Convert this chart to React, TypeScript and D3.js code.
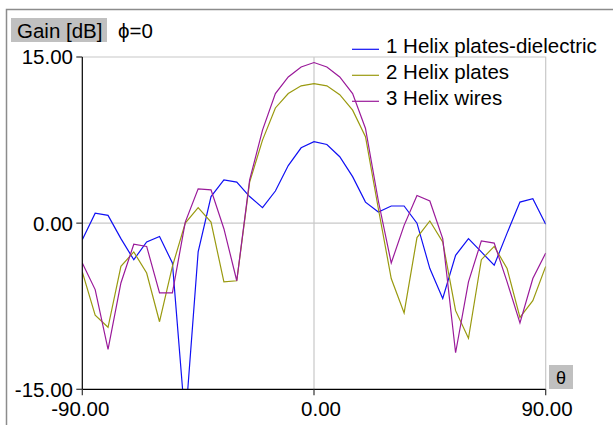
import React from 'react';
import * as d3 from 'd3';

// angles in degrees, 5 degree steps
const angles = d3.range(-90, 91, 5);

const seriesNames = ['1 Helix plates-dielectric', '2 Helix plates', '3 Helix wires'];
const seriesColors = ['#1010f4', '#9a9a10', '#9a1a9a'];

const platesDielectric = [
  -1.5, 0.9, 0.7, -1.4, -3.3, -1.7, -1.2, -3.6, -18, -2.6,
  2.4, 3.9, 3.7, 2.4, 1.4, 2.9, 5.2, 6.8, 7.35, 7.1,
  6.0, 4.2, 1.9, 1.0, 1.55, 1.55, 0.0, -4.1, -6.8, -2.9,
  -1.4, -2.6, -3.8, -0.9, 1.9, 2.2, -0.1,
];
const helixPlates = [
  -4.4, -8.3, -9.4, -3.9, -2.6, -4.5, -8.9, -3.9, 0.0, 1.4,
  0.1, -5.3, -5.2, 3.7, 7.5, 10.4, 11.7, 12.4, 12.6, 12.4,
  11.6, 10.2, 7.8, 1.3, -5.0, -8.1, -1.3, 0.2, -1.7, -7.9,
  -10.4, -3.3, -2.1, -4.1, -8.5, -7.0, -3.9,
];
const helixWires = [
  -3.6, -6.0, -11.4, -5.4, -1.9, -2.1, -6.3, -6.3, 0.1, 3.1,
  3.0, -0.5, -5.2, 3.9, 8.4, 11.7, 13.2, 14.1, 14.5, 14.1,
  13.2, 11.7, 8.55, 2.0, -3.6, -0.2, 2.5, 2.0, -1.4, -11.7,
  -5.3, -1.6, -1.8, -5.3, -9.0, -5.0, -2.7,
];

const xTicks = [-90, 0, 90];
const yTicks = [-15, 0, 15];

const W = 613;
const H = 425;
const font = '"Liberation Sans", Arial, sans-serif';

export default function App() {
  const x = d3.scaleLinear().domain([-90, 90]).range([82.3, 545.7]);
  const y = d3.scaleLinear().domain([-15, 15]).range([389.3, 57]);
  // plain hyphen for negatives, like the original
  const fmt = (v: number) => d3.format('.2f')(v).replace('\u2212', '-');

  const line = d3.line<number>()
    .x((_, i) => x(angles[i]))
    .y(d => y(d));

  const series = [platesDielectric, helixPlates, helixWires];

  return (
    <svg width={W} height={H} style={{ position: 'absolute', left: 0, top: 0, background: '#fff' }}
      fontFamily={font} fontSize={20.5}>
      <defs>
        <clipPath id="plot">
          <rect x={x(-90)} y={y(15)} width={x(90) - x(-90)} height={y(-15) - y(15)} />
        </clipPath>
      </defs>

      {/* outer frame */}
      <path d={`M6.5,${H} V9.5 H${W}`} fill="none" stroke="#8c8c8c" strokeWidth={1.5} />

      {/* plot frame and grid */}
      <path d={`M${x(-90)},${y(15)} H${x(90)} V${y(-15)}`} fill="none" stroke="#c8c8c8" strokeWidth={1.2} />
      <line x1={x(-90)} x2={x(90)} y1={y(0)} y2={y(0)} stroke="#c8c8c8" strokeWidth={1.2} />
      <line x1={x(0)} x2={x(0)} y1={y(15)} y2={y(-15)} stroke="#c8c8c8" strokeWidth={1.2} />

      {/* curves */}
      <g clipPath="url(#plot)">
        {series.map((s, i) => (
          <path key={i} d={line(s) ?? ''} fill="none" stroke={seriesColors[i]} strokeWidth={1.2} />
        ))}
      </g>

      {/* axes */}
      <line x1={x(-90)} x2={x(-90)} y1={y(15)} y2={y(-15)} stroke="#000" strokeWidth={1.2} />
      <line x1={x(-90)} x2={x(90)} y1={y(-15)} y2={y(-15)} stroke="#000" strokeWidth={1.2} />
      {yTicks.map(t => (
        <g key={'y' + t}>
          <line x1={x(-90) - 6} x2={x(-90)} y1={y(t)} y2={y(t)} stroke="#333" strokeWidth={1.2} />
          <text x={73} y={y(t)} dy="0.36em" textAnchor="end" fill="#000">{fmt(t)}</text>
        </g>
      ))}
      {xTicks.map(t => (
        <g key={'x' + t}>
          <line x1={x(t)} x2={x(t)} y1={y(-15)} y2={y(-15) + 6} stroke="#333" strokeWidth={1.2} />
          <text x={x(t) + 27} y={416} textAnchor="end" fill="#000">{fmt(t)}</text>
        </g>
      ))}

      {/* axis titles */}
      <rect x={11} y={18} width={96} height={24} fill="#c0c0c0" />
      <text x={17} y={37.5} fill="#000">Gain [dB]</text>
      <text x={118} y={37.5} fill="#000">ϕ=0</text>
      <rect x={549} y={365} width={24} height={24} fill="#c0c0c0" />
      <text x={561} y={384} textAnchor="middle" fontSize={18} fill="#000">θ</text>

      {/* legend */}
      {seriesNames.map((n, i) => (
        <g key={n} transform={`translate(0,${i * 26})`}>
          <line x1={352} x2={379} y1={49.3} y2={49.3} stroke={seriesColors[i]} strokeWidth={1.2} />
          <text x={386} y={52.5} fill="#000">{n}</text>
        </g>
      ))}
    </svg>
  );
}
